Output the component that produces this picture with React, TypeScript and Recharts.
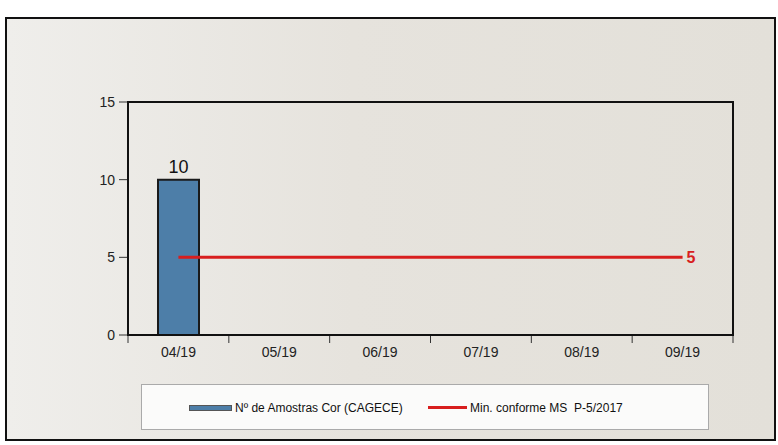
import React from 'react';
import { ComposedChart, Bar, Line, XAxis, YAxis, LabelList } from 'recharts';

const months = ['04/19', '05/19', '06/19', '07/19', '08/19', '09/19'];
const amostras: (number | null)[] = [10, null, null, null, null, null];
const minimo = [5, 5, 5, 5, 5, 5];
const yTicks = [0, 5, 10, 15];

const BAR_NAME = 'Nº de Amostras Cor (CAGECE)';
const LINE_NAME = 'Min. conforme MS  P-5/2017';

const W = 778;
const H = 445;
const M = { top: 102, right: 45, left: 88, bottom: 80 };
const Y_W = 40;
const X_H = 30;
const PLOT_L = M.left + Y_W;
const PLOT_R = W - M.right;
const PLOT_T = M.top;
const PLOT_B = H - M.bottom - X_H;
const BAND = (PLOT_R - PLOT_L) / months.length;

const data = months.map((m, i) => ({ month: m, amostras: amostras[i], minimo: minimo[i] }));

const FONT = 'Arial, "Liberation Sans", sans-serif';

// ticks at the category boundaries, labels at the centres
const MonthTick = (props: any) => {
  const { x, payload, index } = props;
  const left = x - BAND / 2;
  return (
    <g>
      <line x1={left} x2={left} y1={PLOT_B} y2={PLOT_B + 8} stroke="#333" strokeWidth={1} />
      {index === months.length - 1 && (
        <line x1={x + BAND / 2} x2={x + BAND / 2} y1={PLOT_B} y2={PLOT_B + 8} stroke="#333" strokeWidth={1} />
      )}
      <text x={x} y={PLOT_B + 12} dy="0.71em" textAnchor="middle" fontSize={14} fill="#222" fontFamily={FONT}>
        {payload.value}
      </text>
    </g>
  );
};

const BarValue = (props: any) => {
  const { x, y, width, value } = props;
  if (value == null) return null;
  return (
    <text x={x + width / 2} y={y - 7} textAnchor="middle" fontSize={18} fill="#111" fontFamily={FONT}>
      {value}
    </text>
  );
};

const LastValue = (props: any) => {
  const { x, y, index, value } = props;
  if (index !== months.length - 1) return null;
  return (
    <text x={x + 4} y={y} dy="0.35em" fontSize={16} fontWeight="bold" fill="#d81e1e" fontFamily={FONT}>
      {value}
    </text>
  );
};

export default function App() {
  return (
    <div style={{ position: 'absolute', left: 0, top: 0, width: W, height: H, background: '#fff', fontFamily: FONT }}>
      <div
        style={{
          position: 'absolute',
          left: 5,
          top: 17,
          width: 771,
          height: 424,
          boxSizing: 'border-box',
          border: '2px solid #111',
          background: 'linear-gradient(90deg, #efeeeb 0%, #e6e3dd 45%, #e3e0d9 100%)',
        }}
      />
      <div style={{ position: 'absolute', left: 0, top: 0 }}>
        <ComposedChart width={W} height={H} data={data} margin={M}>
          <XAxis
            dataKey="month"
            height={X_H}
            axisLine={false}
            tickLine={false}
            tick={<MonthTick />}
            interval={0}
          />
          <YAxis
            width={Y_W}
            domain={[0, 15]}
            ticks={yTicks}
            axisLine={false}
            tickSize={9}
            tickMargin={4}
            tickLine={{ stroke: '#333' }}
            tick={{ fontSize: 14, fill: '#222', fontFamily: FONT }}
          />
          <Bar dataKey="amostras" name={BAR_NAME} barSize={41} fill="#4d7ea8" stroke="#1a1a1a" strokeWidth={2} isAnimationActive={false}>
            <LabelList dataKey="amostras" content={<BarValue />} />
          </Bar>
          <Line
            dataKey="minimo"
            name={LINE_NAME}
            stroke="#d81e1e"
            strokeWidth={3}
            dot={false}
            activeDot={false}
            isAnimationActive={false}
          >
            <LabelList dataKey="minimo" content={<LastValue />} />
          </Line>
        </ComposedChart>
      </div>
      {/* plot frame */}
      <div
        style={{
          position: 'absolute',
          left: PLOT_L - 1,
          top: PLOT_T - 1,
          width: PLOT_R - PLOT_L + 2,
          height: PLOT_B - PLOT_T + 2,
          boxSizing: 'border-box',
          border: '2px solid #111',
          pointerEvents: 'none',
        }}
      />
      {/* legend */}
      <div
        style={{
          position: 'absolute',
          left: 141,
          top: 384,
          width: 568,
          height: 46,
          boxSizing: 'border-box',
          border: '1px solid #aaa',
          background: '#fbfbfa',
          fontSize: 12,
          color: '#111',
        }}
      >
        <div style={{ position: 'absolute', left: 47, top: 20, width: 43, height: 6, background: '#4d7ea8', border: '1px solid #555', boxSizing: 'border-box' }} />
        <div style={{ position: 'absolute', left: 93, top: 16, whiteSpace: 'nowrap' }}>{BAR_NAME}</div>
        <div style={{ position: 'absolute', left: 286, top: 21, width: 39, height: 3, background: '#d81e1e' }} />
        <div style={{ position: 'absolute', left: 328, top: 16, whiteSpace: 'pre' }}>{LINE_NAME}</div>
      </div>
    </div>
  );
}
